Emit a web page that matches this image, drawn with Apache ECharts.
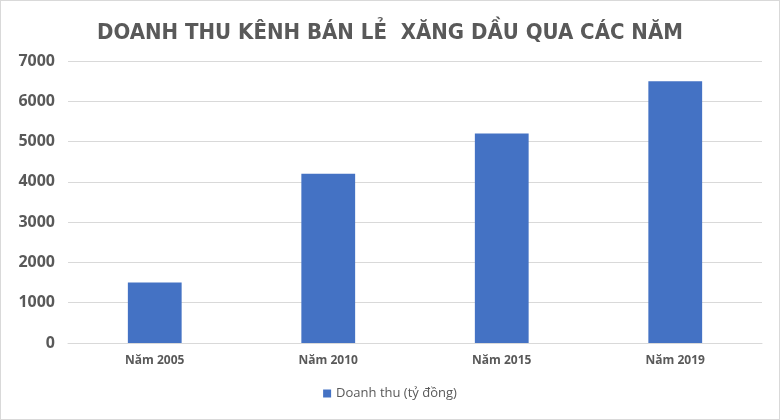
<!DOCTYPE html>
<html><head><meta charset="utf-8">
<script src="https://cdn.jsdelivr.net/npm/echarts@6/dist/echarts.min.js"></script>
<style>html,body{margin:0;padding:0;background:#fff}#c{width:778px;height:418px;border:1px solid #d9d9d9}</style>
</head><body><div id="c"></div>
<script>
const categories = ['Năm 2005', 'Năm 2010', 'Năm 2015', 'Năm 2019'];
const revenue = [1500, 4200, 5200, 6500];
const seriesName = 'Doanh thu (tỷ đồng)';
const titleText = 'DOANH THU KÊNH BÁN LẺ  XĂNG DẦU QUA CÁC NĂM';

const chart = echarts.init(document.getElementById('c'));
chart.setOption({
  animation: false,
  title: {
    text: titleText, left: 'center', top: 16,
    textStyle: { fontFamily: 'DejaVu Sans Condensed', fontWeight: 'bold', fontSize: 22, color: '#595959' }
  },
  legend: {
    bottom: 14, left: 'center', itemWidth: 8, itemHeight: 8, icon: 'rect',
    textStyle: { fontFamily: 'Open Sans', fontSize: 13, color: '#595959' },
    data: [seriesName]
  },
  grid: { left: 67, right: 17, top: 60, bottom: 76 },
  xAxis: {
    type: 'category', data: categories,
    axisLine: { lineStyle: { color: '#d9d9d9' } }, axisTick: { show: false },
    axisLabel: { fontFamily: 'Open Sans', fontWeight: 'bold', fontSize: 12, color: '#595959', margin: 12 }
  },
  yAxis: {
    type: 'value', min: 0, max: 7000, interval: 1000,
    splitLine: { lineStyle: { color: '#d9d9d9' } },
    axisLabel: { fontFamily: 'Open Sans', fontWeight: 'bold', fontSize: 16, color: '#595959', margin: 13,
      formatter: v => String(v) }
  },
  series: [{
    name: seriesName, type: 'bar', data: revenue, barWidth: '31%',
    itemStyle: { color: '#4472C4' }
  }]
});
</script></body></html>
